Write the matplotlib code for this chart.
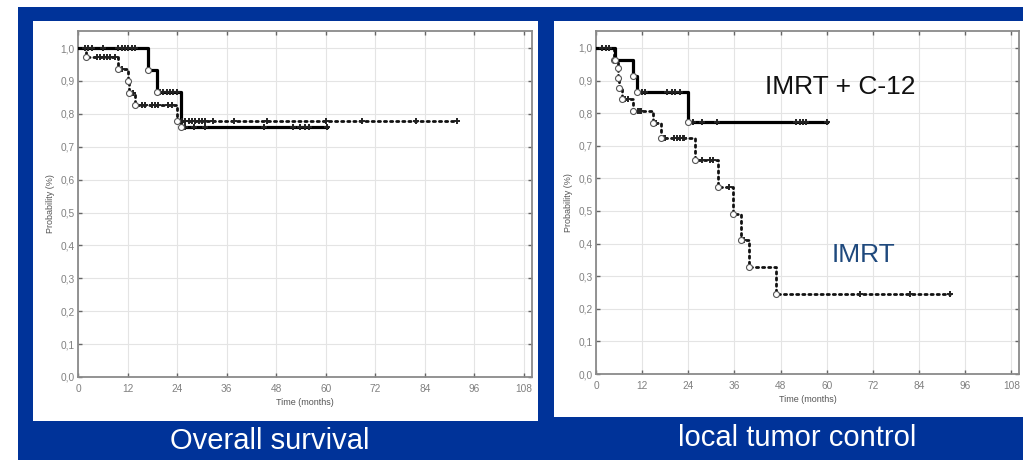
import numpy as np
import matplotlib
matplotlib.use("Agg")
import matplotlib.pyplot as plt
from matplotlib.patches import Rectangle

plt.rcParams['font.family'] = ['Liberation Sans', 'DejaVu Sans']

# overall survival, IMRT + C-12 (solid) and IMRT (dotted)
os_c12_times = [17.0, 19.2, 24.9]
os_c12_surv = [0.933, 0.867, 0.759]
os_c12_end = 60.4
os_c12_cens = [1.7, 2.5, 3.3, 6.1, 9.8, 10.6, 11.4, 12.2, 13.0, 13.8,
               19.9, 20.7, 21.5, 22.3, 23.1, 23.9,
               26.0, 28.0, 30.8, 45.0, 52.2, 53.9, 55.1, 55.9, 60.4]

os_imrt_times = [2.0, 9.8, 12.1, 12.4, 13.8, 24.0]
os_imrt_surv = [0.972, 0.936, 0.900, 0.864, 0.826, 0.779]
os_imrt_end = 91.9
os_imrt_cens = [4.5, 5.3, 6.2, 7.0, 7.8, 9.0, 10.6, 13.3,
                15.5, 16.3, 17.9, 18.7, 19.5, 21.9, 22.7,
                25.2, 26.0, 26.8, 27.6, 28.4, 29.2, 30.0, 30.8, 32.8,
                37.7, 45.8, 60.0, 68.8, 81.8, 91.9]

# local tumor control
ltc_c12_times = [4.9, 9.7, 10.6, 23.8]
ltc_c12_surv = [0.963, 0.914, 0.866, 0.774]
ltc_c12_end = 60.1
ltc_c12_cens = [11.9, 12.7, 18.4, 19.7, 20.5, 21.8,
                25.3, 27.5, 31.4, 52.1, 53.0, 53.8, 54.7, 60.1]

ltc_imrt_times = [4.8, 5.7, 5.8, 5.9, 6.7, 9.6, 14.9, 16.8,
                  25.7, 31.8, 35.7, 37.6, 39.8, 46.9]
ltc_imrt_surv = [0.963, 0.938, 0.907, 0.876, 0.843, 0.807, 0.769, 0.725,
                 0.656, 0.575, 0.491, 0.411, 0.327, 0.245]
ltc_imrt_end = 92.0
ltc_imrt_cens = [1.5, 2.5, 3.5, 7.0, 7.6, 8.2, 11.0, 11.4, 11.8, 15.6,
                 17.6, 18.0, 20.2, 21.0, 21.8, 22.5, 23.0,
                 27.5, 29.6, 30.5, 34.5, 38.5, 68.7, 81.6, 92.0]

x_ticks = [0, 12, 24, 36, 48, 60, 72, 84, 96, 108]
y_ticks = [0.0, 0.1, 0.2, 0.3, 0.4, 0.5, 0.6, 0.7, 0.8, 0.9, 1.0]
y_ticklabels = [f"{v:.1f}".replace(".", ",") for v in y_ticks]

BLUE = '#003399'
GRAY = '#8a8a8a'

W, H = 1023, 463
fig = plt.figure(figsize=(W / 100, H / 100), dpi=100, facecolor='white')


def px_rect(x0, y0, x1, y1, color):
    fig.patches.append(Rectangle((x0 / W, 1 - y1 / H), (x1 - x0) / W, (y1 - y0) / H,
                                 transform=fig.transFigure, facecolor=color,
                                 edgecolor='none', zorder=-10))


px_rect(18, 7, 1023, 460, BLUE)
px_rect(33, 21, 538, 421, 'white')
px_rect(554, 21, 1023, 417, 'white')


def km(ax, times, surv, end, cens, style):
    t = np.r_[0, times, end]
    s = np.r_[1.0, surv, surv[-1]]
    if style == 'solid':
        kw = dict(color='black', lw=2.3, ls='-')
    else:
        kw = dict(color='#111111', lw=2.0, ls=(0, (0.8, 1.4)), dash_capstyle='round')
    ax.step(t, s, where='post', zorder=3, **kw)
    ax.plot(times, surv, 'o', ms=4.3, mfc='white', mec='#555555', mew=0.8, zorder=5)
    idx = np.searchsorted(t, cens, side='right') - 1
    ax.plot(cens, s[idx], '+', ms=4, mew=1.4, color='#222222', zorder=4)


def setup(ax):
    ax.set_xlim(0, 110)
    ax.set_ylim(0, 1.052)
    ax.set_xticks(x_ticks)
    ax.set_yticks(y_ticks)
    ax.set_yticklabels(y_ticklabels)
    ax.grid(True, color='#e4e4e4', lw=0.8)
    ax.set_axisbelow(True)
    for sp in ax.spines.values():
        sp.set_color(GRAY)
        sp.set_linewidth(1.3)
    ax.tick_params(direction='in', length=3, width=1, color='#666666',
                   top=True, right=True, labelsize=7.3, labelcolor='#808080')
    ax.tick_params(axis='y', pad=2.5)
    ax.tick_params(axis='x', pad=5)
    ax.set_xlabel("Time (months)", fontsize=6.5, color='#555555', labelpad=3)
    ax.set_ylabel("Probability (%)", fontsize=6.5, color='#555555', labelpad=4)


ax1 = fig.add_axes([78 / W, 1 - 377 / H, 454 / W, 346 / H])
setup(ax1)
km(ax1, os_imrt_times, os_imrt_surv, os_imrt_end, os_imrt_cens, 'dotted')
km(ax1, os_c12_times, os_c12_surv, os_c12_end, os_c12_cens, 'solid')

ax2 = fig.add_axes([596 / W, 1 - 374 / H, 423 / W, 343 / H])
setup(ax2)
km(ax2, ltc_imrt_times, ltc_imrt_surv, ltc_imrt_end, ltc_imrt_cens, 'dotted')
km(ax2, ltc_c12_times, ltc_c12_surv, ltc_c12_end, ltc_c12_cens, 'solid')

ax2.text(44, 0.88, "IMRT + C-12", fontsize=19, color='#111111', va='center', ha='left')
ax2.text(61.3, 0.365, "IMRT", fontsize=19, color='#1f497d', va='center', ha='left')

fig.text(270 / W, 1 - 441 / H, "Overall survival", fontsize=21, color='white',
         ha='center', va='center')
fig.text(797 / W, 1 - 438 / H, "local tumor control", fontsize=21, color='white',
         ha='center', va='center')

fig.savefig("out.png", dpi=100, facecolor='white')
